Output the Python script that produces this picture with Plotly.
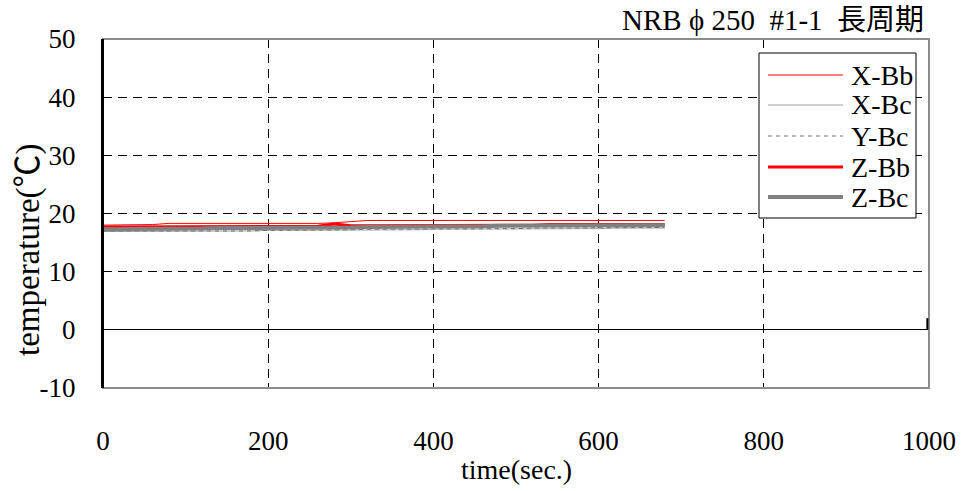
import plotly.graph_objects as go

# ---- data ----
time = [0, 20, 40, 60, 80, 100, 120, 140, 160, 180, 200, 220, 240, 260, 280, 300,
        320, 340, 360, 380, 400, 420, 440, 460, 480, 500, 520, 540, 560, 580, 600,
        620, 640, 660, 680]

X_Bb = [18.0, 18.0, 18.0, 18.1, 18.3, 18.3, 18.3, 18.3, 18.3, 18.3, 18.2, 18.2,
        18.3, 18.3, 18.4, 18.6, 18.8, 18.8, 18.8, 18.8, 18.8, 18.8, 18.8, 18.8,
        18.8, 18.8, 18.8, 18.8, 18.8, 18.8, 18.8, 18.8, 18.8, 18.8, 18.8]
X_Bc = [16.9, 16.9, 16.9, 16.9, 17.0, 17.0, 17.0, 17.0, 17.0, 17.0, 17.1, 17.1,
        17.1, 17.1, 17.1, 17.2, 17.2, 17.2, 17.2, 17.2, 17.3, 17.3, 17.3, 17.3,
        17.3, 17.4, 17.4, 17.4, 17.4, 17.4, 17.4, 17.5, 17.5, 17.5, 17.5]
Y_Bc = [17.0, 17.0, 17.0, 17.0, 16.9, 16.9, 16.9, 16.9, 16.9, 17.0, 17.1, 17.1,
        17.2, 17.2, 17.2, 17.2, 17.3, 17.3, 17.3, 17.3, 17.3, 17.4, 17.4, 17.4,
        17.4, 17.4, 17.5, 17.5, 17.5, 17.5, 17.5, 17.6, 17.6, 17.6, 17.6]
Z_Bb = [17.7, 17.7, 17.7, 17.8, 17.8, 17.8, 17.8, 17.8, 17.8, 17.8, 17.8, 17.8,
        17.8, 17.8, 18.2, 17.9, 17.9, 17.9, 17.9, 18.0, 18.0, 18.0, 18.0, 18.0,
        18.0, 18.0, 18.0, 18.1, 18.1, 18.1, 18.1, 18.1, 18.1, 18.1, 18.1]
Z_Bc = [17.3, 17.3, 17.3, 17.4, 17.4, 17.4, 17.4, 17.5, 17.5, 17.5, 17.5, 17.5,
        17.6, 17.6, 17.6, 17.6, 17.7, 17.7, 17.7, 17.7, 17.8, 17.8, 17.8, 17.8,
        17.9, 17.9, 17.9, 17.9, 17.9, 18.0, 18.0, 18.0, 18.0, 18.0, 18.0]

series_names = ["X-Bb", "X-Bc", "Y-Bc", "Z-Bb", "Z-Bc"]
series_values = [X_Bb, X_Bc, Y_Bc, Z_Bb, Z_Bc]

x_ticks = [0, 200, 400, 600, 800, 1000]
y_ticks = [-10, 0, 10, 20, 30, 40, 50]

title_text = "NRB\u00a0\u03d5\u00a0250\u00a0\u00a0#1-1\u00a0\u00a0長周期"
x_title = "time(sec.)"
y_title = "temperature(℃)"

FONT = "Liberation Serif, Times New Roman, Noto Sans CJK JP, serif"
FS = 27

styles = [
    dict(color="#ff0000", width=1),
    dict(color="#a0a0a0", width=1),
    dict(color="#707070", width=1, dash="4px,4px"),
    dict(color="#ff0000", width=3),
    dict(color="#808080", width=4),
]

# plot-area pixel geometry (for placing the manual legend)
L, R, T, B = 103, 929, 39, 388
def px(x):
    return (x - L) / (R - L)
def py(y):
    return (B - y) / (B - T)

fig = go.Figure()
for name, vals, line in zip(series_names, series_values, styles):
    fig.add_trace(go.Scatter(x=time, y=vals, mode="lines", name=name, line=line,
                             showlegend=False))

shapes = [
    dict(type="rect", xref="paper", yref="paper", x0=0, y0=0, x1=1, y1=1,
         line=dict(color="#8c8c8c", width=2), layer="above"),
    dict(type="line", xref="paper", yref="paper", x0=0, y0=0, x1=0, y1=1,
         line=dict(color="black", width=2), layer="above"),
    # small black tick where the zero line meets the right frame
    dict(type="line", xref="paper", yref="y", x0=0.998, x1=0.998, y0=0, y1=2,
         line=dict(color="black", width=2), layer="above"),
    # legend box
    dict(type="rect", xref="paper", yref="paper", x0=px(759), y0=py(218),
         x1=px(916), y1=py(53), line=dict(color="black", width=1),
         fillcolor="white", layer="above"),
]
annotations = [
    dict(text=title_text, xref="paper", yref="paper", x=px(926), y=py(20),
         xanchor="right", yanchor="middle", showarrow=False,
         font=dict(family=FONT, size=29, color="black")),
    dict(text=y_title, xref="paper", yref="paper", x=px(28), y=py(250),
         xanchor="center", yanchor="middle", showarrow=False, textangle=-90,
         font=dict(family=FONT, size=33, color="black")),
    dict(text=x_title, xref="paper", yref="paper", x=px(516), y=py(469),
         xanchor="center", yanchor="middle", showarrow=False,
         font=dict(family=FONT, size=28, color="black")),
]
row_y = [75, 105, 136, 167, 197]
for name, line, ry in zip(series_names, styles, row_y):
    shapes.append(dict(type="line", xref="paper", yref="paper",
                       x0=px(768), x1=px(843), y0=py(ry), y1=py(ry),
                       line=line, layer="above"))
    annotations.append(dict(text=name, xref="paper", yref="paper", x=px(849),
                            y=py(ry), xanchor="left", yanchor="middle",
                            showarrow=False,
                            font=dict(family=FONT, size=28, color="black")))

fig.update_layout(
    width=962, height=491,
    margin=dict(l=L, r=962 - R, t=T, b=491 - B, autoexpand=False),
    paper_bgcolor="white", plot_bgcolor="white",
    font=dict(family=FONT, size=FS, color="black"),
    showlegend=False,
    xaxis=dict(
        range=[0, 1000], tickvals=x_ticks, ticktext=[str(v) for v in x_ticks],
        showgrid=True, gridcolor="black", gridwidth=1, griddash="9px,6px",
        zeroline=False, showline=False, automargin=False,
        ticks="inside", ticklen=5, tickcolor="black",
        ticklabelstandoff=34,
        tickfont=dict(family=FONT, size=FS, color="black"),
    ),
    yaxis=dict(
        range=[-10, 50], tickvals=y_ticks, ticktext=[str(v) for v in y_ticks],
        showgrid=True, gridcolor="black", gridwidth=1, griddash="9px,6px",
        zeroline=True, zerolinecolor="black", zerolinewidth=1,
        showline=True, linecolor="black", linewidth=2, automargin=False,
        ticks="inside", ticklen=5, tickcolor="black",
        ticklabelstandoff=20,
        tickfont=dict(family=FONT, size=FS, color="black"),
    ),
    shapes=shapes,
    annotations=annotations,
)

fig.write_html("out.html")
